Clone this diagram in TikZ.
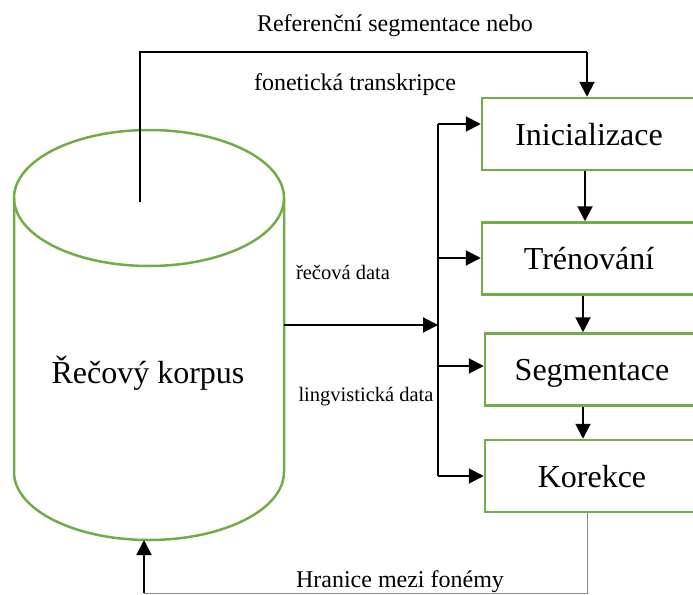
\documentclass[tikz,border=0pt]{standalone}
\usepackage{fontspec}
\setmainfont{Liberation Serif}
\usetikzlibrary{arrows.meta}
\definecolor{boxgreen}{HTML}{70AD47}
\begin{document}
\begin{tikzpicture}[x=1pt,y=1pt,
  box/.style={draw=boxgreen, line width=2.5pt, minimum width=214pt, minimum height=72pt,
    inner sep=0pt, text height=22pt, text depth=0pt, font=\fontsize{32}{34}\selectfont},
  cyl/.style={draw=boxgreen, line width=2.5pt},
  arr/.style={line width=2pt, -{Triangle[length=15pt,width=15pt]}},
  busline/.style={line width=2pt},
  thinline/.style={line width=1.2pt},
  greyline/.style={line width=1pt, draw=black!45},
  lbl/.style={font=\fontsize{24}{26}\selectfont, anchor=base, inner sep=0pt},
  slbl/.style={font=\fontsize{20.5}{22}\selectfont, anchor=base, inner sep=0pt}]
\useasboundingbox (0,0) rectangle (693,-594);
\clip (0,0) rectangle (693,-594);
% cylinder
\draw[cyl] (149,-198) ellipse [x radius=135, y radius=68];
\draw[cyl] (14,-198) -- (14,-472) arc[start angle=180, end angle=360, x radius=135, y radius=68] -- (284,-198);
\node[font=\fontsize{32}{34}\selectfont, anchor=base, inner sep=0pt] (korpus) at (148,-383) {Řečový korpus};
% boxes
\node[box] (ini) at (589,-134) {Inicializace};
\node[box] (tre) at (589,-258.5) {Trénování};
\node[box] (seg) at (592,-369.5) {Segmentace};
\node[box] (kor) at (592,-476) {Korekce};
% coordinates
\coordinate (topin) at (140,-202);
\coordinate (tr) at (587,-52);
\coordinate (xa) at (585,0);
\coordinate (xb) at (583,0);
\coordinate (cylR) at (284,-325);
\coordinate (busM) at (438,-325);
\coordinate (bus1) at (438,-124);
\coordinate (bus2) at (438,-258);
\coordinate (bus3) at (438,-366);
\coordinate (bus4) at (438,-476);
\coordinate (bl) at (587,-593);
\coordinate (bk) at (144,-593);
\coordinate (cylB) at (144,-540);
% connectors
\draw[thinline] (topin) |- (tr);
\draw[arr] (tr) -- (ini.north -| tr);
\draw[arr] (ini.south -| xa) -- (tre.north -| xa);
\draw[arr] (tre.south -| xb) -- (seg.north -| xb);
\draw[arr] (seg.south -| xb) -- (kor.north -| xb);
\draw[arr] (cylR) -- (busM);
\draw[busline] (bus1) -- (bus4);
\draw[arr] (bus1) -- (bus1 -| ini.west);
\draw[arr] (bus2) -- (bus2 -| tre.west);
\draw[arr] (bus3) -- (bus3 -| seg.west);
\draw[arr] (bus4) -- (bus4 -| kor.west);
\draw[greyline] (kor.south -| bl) -- (bl) -- (bk);
\draw[arr] (bk) -- (cylB);
% labels
\node[lbl] (l1) at (395,-32) {Referenční segmentace nebo};
\node[lbl] (l2) at (355,-90) {fonetická transkripce};
\node[slbl] (l3) at (343,-279) {řečová data};
\node[slbl] (l4) at (366,-401) {lingvistická data};
\node[lbl] (l5) at (400,-587) {Hranice mezi fonémy};
\end{tikzpicture}
\end{document}
